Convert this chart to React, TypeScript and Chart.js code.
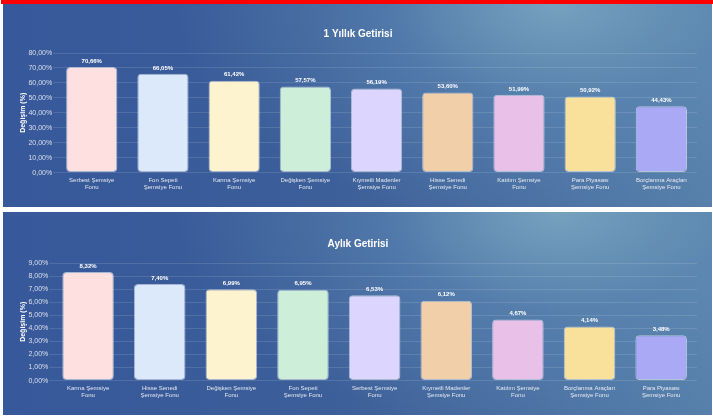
import React, { useEffect, useRef } from "react";
import { Chart, registerables } from "chart.js";

Chart.register(...registerables);

const yearlyCategories: string[][] = [
  ["Serbest Şemsiye", "Fonu"],
  ["Fon Sepeti", "Şemsiye Fonu"],
  ["Karma Şemsiye", "Fonu"],
  ["Değişken Şemsiye", "Fonu"],
  ["Kıymetli Madenler", "Şemsiye Fonu"],
  ["Hisse Senedi", "Şemsiye Fonu"],
  ["Katılım Şemsiye", "Fonu"],
  ["Para Piyasası", "Şemsiye Fonu"],
  ["Borçlanma Araçları", "Şemsiye Fonu"],
];
const yearlyValues: number[] = [70.66, 66.05, 61.42, 57.57, 56.19, 53.6, 51.99, 50.92, 44.43];

const monthlyCategories: string[][] = [
  ["Karma Şemsiye", "Fonu"],
  ["Hisse Senedi", "Şemsiye Fonu"],
  ["Değişken Şemsiye", "Fonu"],
  ["Fon Sepeti", "Şemsiye Fonu"],
  ["Serbest Şemsiye", "Fonu"],
  ["Kıymetli Madenler", "Şemsiye Fonu"],
  ["Katılım Şemsiye", "Fonu"],
  ["Borçlanma Araçları", "Şemsiye Fonu"],
  ["Para Piyasası", "Şemsiye Fonu"],
];
const monthlyValues: number[] = [8.32, 7.4, 6.99, 6.95, 6.53, 6.12, 4.67, 4.14, 3.48];

const barColors: string[] = [
  "#fde0df",
  "#dbe9fa",
  "#fdf3cf",
  "#cdeed9",
  "#dcd5fd",
  "#f1cfa9",
  "#e9c1e8",
  "#f9e19c",
  "#a9a9f6",
];

const FONT = "'Liberation Sans', Arial, Helvetica, sans-serif";
const fmt = (v: number) => v.toFixed(2).replace(".", ",") + "%";

const valueLabelPlugin = {
  id: "valueLabels",
  afterDatasetsDraw(chart: any) {
    const ctx = chart.ctx;
    const meta = chart.getDatasetMeta(0);
    const data = chart.data.datasets[0].data as number[];
    ctx.save();
    ctx.fillStyle = "#ffffff";
    ctx.font = `bold 6px ${FONT}`;
    ctx.textAlign = "center";
    ctx.textBaseline = "bottom";
    meta.data.forEach((el: any, i: number) => {
      ctx.fillText(fmt(data[i]), el.x, el.y - 3);
    });
    ctx.restore();
  },
};

function BarPanel(props: {
  title: string;
  categories: string[][];
  values: number[];
  max: number;
  step: number;
  top: number;
  titleTop: number;
}) {
  const ref = useRef<HTMLCanvasElement | null>(null);
  useEffect(() => {
    if (!ref.current) return;
    const chart = new Chart(ref.current, {
      type: "bar",
      data: {
        labels: props.categories,
        datasets: [
          {
            data: props.values,
            backgroundColor: barColors,
            borderColor: "rgba(255,255,255,0.55)",
            borderWidth: 1,
            borderRadius: 4,
            borderSkipped: false,
          },
        ],
      },
      options: {
        responsive: false,
        animation: false,
        devicePixelRatio: 1,
        layout: { padding: { left: 16, right: 15, top: 14, bottom: 12 } },
        plugins: {
          legend: { display: false },
          tooltip: { enabled: false },
          title: {
            display: true,
            text: props.title,
            color: "#ffffff",
            font: { family: FONT, size: 10, weight: "bold" },
            padding: { top: props.titleTop, bottom: 13 },
          },
        },
        scales: {
          x: {
            grid: { display: false, drawTicks: false },
            border: { display: false },
            ticks: {
              color: "rgba(255,255,255,0.85)",
              font: { family: FONT, size: 6 },
              maxRotation: 0,
              autoSkip: false,
              padding: 4,
            },
          },
          y: {
            min: 0,
            max: props.max,
            ticks: {
              stepSize: props.step,
              color: "rgba(255,255,255,0.8)",
              font: { family: FONT, size: 7 },
              callback: (v: any) => fmt(Number(v)),
              padding: 1,
            },
            grid: { color: "rgba(255,255,255,0.12)", tickLength: 3 },
            border: { display: false },
            title: {
              display: true,
              text: "Değişim (%)",
              color: "#ffffff",
              font: { family: FONT, size: 7, weight: "bold" },
              padding: { top: 0, bottom: 0 },
            },
          },
        },
      },
      plugins: [valueLabelPlugin],
    } as any);
    return () => chart.destroy();
  }, []);
  return (
    <div
      style={{
        position: "absolute",
        left: 3,
        top: props.top,
        width: 709,
        height: 203,
        background:
          "radial-gradient(ellipse 380px 220px at 78% 0%, rgba(125,170,195,0.85) 0%, rgba(100,145,185,0.45) 45%, rgba(60,95,150,0) 100%), linear-gradient(90deg, #37589a 0%, #3c5e99 45%, #4a6fa2 75%, #5680aa 100%)",
      }}
    >
      <canvas ref={ref} width={709} height={203} style={{ display: "block" }} />
    </div>
  );
}

export default function App() {
  useEffect(() => {
    document.body.style.margin = "0";
  }, []);
  return (
    <div style={{ position: "relative", width: 713, height: 419, background: "#ffffff", overflow: "hidden" }}>
      <div style={{ position: "absolute", left: 1, top: 0, width: 712, height: 4, background: "#ff0000" }} />
      <BarPanel title="1 Yıllık Getirisi" categories={yearlyCategories} values={yearlyValues} max={80} step={10} top={4} titleTop={10} />
      <BarPanel title="Aylık Getirisi" categories={monthlyCategories} values={monthlyValues} max={9} step={1} top={212} titleTop={12} />
    </div>
  );
}
